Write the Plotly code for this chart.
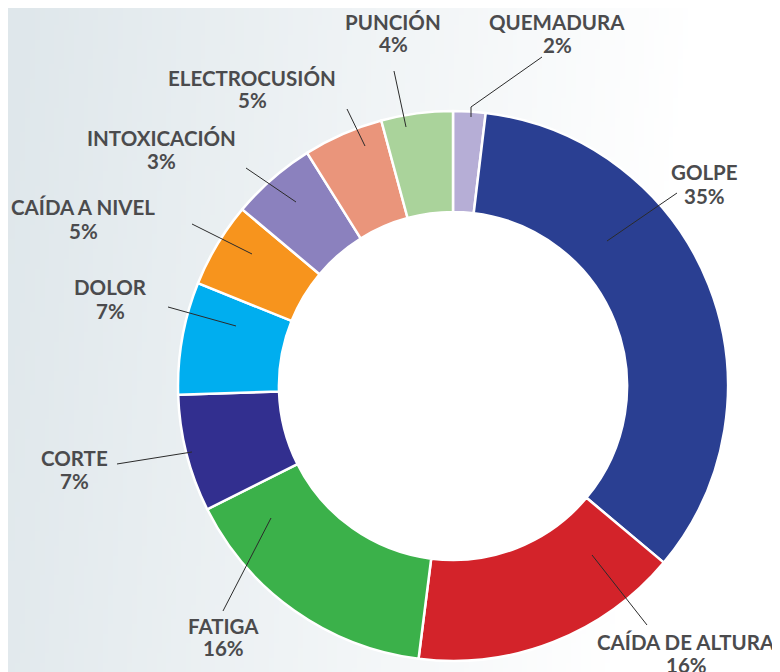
import plotly.graph_objects as go
import zlib, struct, base64

# ---------------- data ----------------
categories = ["QUEMADURA", "GOLPE", "CAÍDA DE ALTURA", "FATIGA", "CORTE",
              "DOLOR", "CAÍDA A NIVEL", "INTOXICACIÓN", "ELECTROCUSIÓN", "PUNCIÓN"]
slice_values = [1.9, 34.2, 15.9, 15.6, 6.9, 6.6, 5.0, 5.0, 4.7, 4.2]
pct_labels = ["2%", "35%", "16%", "16%", "7%", "7%", "5%", "3%", "5%", "4%"]

# ---------------- styles ----------------
colors = ["#B6AED6", "#2A3F92", "#D3232A", "#3BB14A", "#322F8F",
          "#00AEEF", "#F7941D", "#8B81BE", "#EA957B", "#AAD39B"]

W, H = 780, 672
OFF = 8  # page body margin of the html page
# label centre x, name-line y, percent-line y (window pixels)
label_pos = [(557, 22, 45), (704, 172, 196), (686, 642, 665), (223, 626, 648),
             (74, 458, 481), (110, 287, 311), (83, 207, 231), (161, 138, 161),
             (252, 78, 100), (393, 22, 44)]
leaders = [[(542, 57), (471, 107), (471, 117)],
           [(677, 193), (607, 241)],
           [(647, 625), (592, 555)],
           [(223, 611), (271, 518)],
           [(117, 464), (192, 452)],
           [(168, 307), (236, 326)],
           [(192, 224), (252, 254)],
           [(246, 168), (296, 202)],
           [(347, 109), (365, 146)],
           [(394, 71), (406, 127)]]

def px(x):
    return (x - OFF) / W

def py(y):
    return 1 - (y - OFF) / H

# ---------------- background gradient as PNG ----------------
def gradient_png(w=160, h=138):
    c0 = (0xDF, 0xE7, 0xEB)
    c1 = (0xFF, 0xFF, 0xFF)
    raw = bytearray()
    for j in range(h):
        raw.append(0)
        for i in range(w):
            t = (i / (w - 1)) * 1.15 + (j / (h - 1)) * 0.12 - 0.02
            t = max(0.0, min(1.0, t))
            for k in range(3):
                raw.append(int(round(c0[k] + (c1[k] - c0[k]) * t)))
    def chunk(tag, data):
        c = struct.pack(">I", len(data)) + tag + data
        return c + struct.pack(">I", zlib.crc32(tag + data) & 0xffffffff)
    png = b"\x89PNG\r\n\x1a\n"
    png += chunk(b"IHDR", struct.pack(">IIBBBBB", w, h, 8, 2, 0, 0, 0))
    png += chunk(b"IDAT", zlib.compress(bytes(raw), 9))
    png += chunk(b"IEND", b"")
    return "data:image/png;base64," + base64.b64encode(png).decode()

cx, cy, R = 453, 386, 275
HOLE = 0.633

fig = go.Figure(go.Pie(
    labels=categories,
    values=slice_values,
    sort=False,
    direction="clockwise",
    rotation=0,
    hole=HOLE,
    textinfo="none",
    hoverinfo="label+percent",
    marker=dict(colors=colors, line=dict(color="white", width=2.5)),
    domain=dict(x=[px(cx - R), px(cx + R)], y=[py(cy + R), py(cy - R)]),
    showlegend=False,
))

label_font = dict(family="Lato, 'Open Sans', sans-serif", size=20.5, color="#4B4B4D")
annotations = []
for name, pct, (lx, ny, pyy) in zip(categories, pct_labels, label_pos):
    for txt, yy in ((name, ny), (pct, pyy)):
        annotations.append(dict(
            x=px(lx), y=py(yy), xref="paper", yref="paper",
            text=f"<b>{txt}</b>", showarrow=False,
            xanchor="center", yanchor="middle", align="center",
            font=label_font,
        ))

r_in = R * HOLE + 2
shapes = [dict(type="circle", xref="paper", yref="paper",
               x0=px(cx - r_in), x1=px(cx + r_in), y0=py(cy + r_in), y1=py(cy - r_in),
               fillcolor="white", line=dict(width=0), layer="below")]
for pts in leaders:
    path = "M " + " L ".join(f"{px(x):.5f},{py(y):.5f}" for x, y in pts)
    shapes.append(dict(type="path", path=path, xref="paper", yref="paper",
                       line=dict(color="#2B2B2B", width=1), layer="above"))

fig.update_layout(
    width=W, height=H,
    margin=dict(l=0, r=0, t=0, b=0),
    paper_bgcolor="#DFE7EB",
    plot_bgcolor="white",
    annotations=annotations,
    shapes=shapes,
    images=[dict(source=gradient_png(), xref="paper", yref="paper",
                 x=0, y=1, sizex=1, sizey=1, sizing="stretch",
                 xanchor="left", yanchor="top", layer="below")],
)

fig.write_html("out.html")
